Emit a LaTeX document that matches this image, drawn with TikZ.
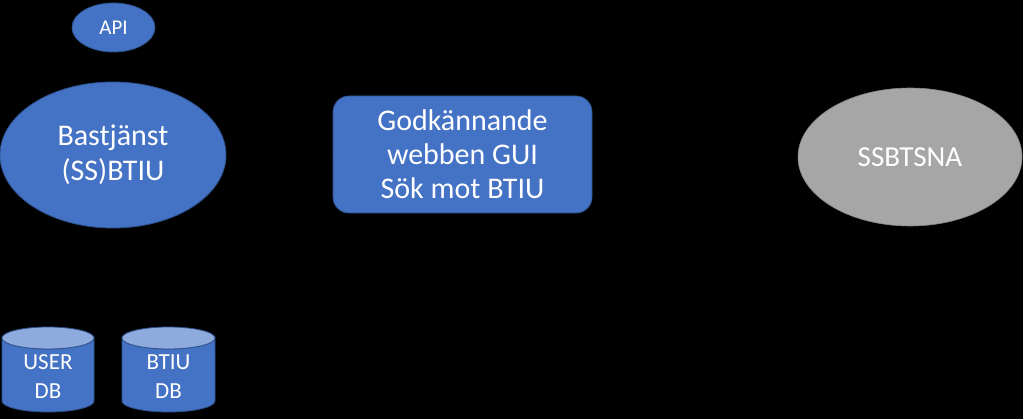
\documentclass[tikz,border=0pt]{standalone}
\usepackage{fontspec}
\setmainfont{Carlito}
\usetikzlibrary{shapes.geometric}
\definecolor{pblue}{HTML}{4472C4}
\definecolor{pedge}{HTML}{2F528F}
\definecolor{pcap}{HTML}{8FAADC}
\definecolor{pgray}{HTML}{A6A6A6}
\tikzset{
  blueell/.style={ellipse, fill=pblue, draw=pedge, line width=0.8pt, inner sep=0pt, text=white, align=center},
  grayell/.style={ellipse, fill=pgray, draw=pgray!80!black, line width=0.6pt, inner sep=0pt, text=white, align=center},
  guibox/.style={rectangle, rounded corners=16pt, fill=pblue, draw=pedge, line width=0.8pt, inner sep=0pt, text=white, align=center},
  dbbody/.style={fill=pblue, draw=pedge, line width=0.8pt},
  dbcap/.style={fill=pcap, draw=pedge, line width=0.8pt},
  dbtext/.style={inner sep=0pt, text=white, align=center, font=\fontsize{23}{29}\selectfont},
  conn/.style={draw=black, line width=1pt}
}
\begin{document}
\begin{tikzpicture}[x=1pt,y=-1pt]
\fill[black] (0,0) rectangle (1023,419);
\useasboundingbox (0,0) rectangle (1023,419);
% connectors (black, as in the reference)
\node[blueell, minimum width=83pt, minimum height=49pt, font=\fontsize{21}{25}\selectfont] (api) at (113.5,27.5) {API};
\node[blueell, minimum width=226pt, minimum height=146pt, font=\fontsize{30}{35}\selectfont] (bas) at (113,155) {Bastjänst\\(SS)BTIU};
\node[guibox, minimum width=259pt, minimum height=117pt, font=\fontsize{30}{34}\selectfont] (gui) at (462.5,154.5) {Godkännande\\webben GUI\\Sök mot BTIU};
\node[grayell, minimum width=224pt, minimum height=138pt, font=\fontsize{29}{34}\selectfont] (ssb) at (910,157) {SSBTSNA};
\draw[conn] (api) -- (bas);
\draw[conn] (bas) -- (gui);
\draw[conn] (gui) -- (ssb);
% USER DB
\path[dbbody] (2,338) -- (2,401) arc[start angle=180, end angle=0, x radius=46, y radius=11] -- (94,338) arc[start angle=0, end angle=180, x radius=46, y radius=11] -- cycle;
\path[dbcap] (48,338) ellipse[x radius=46, y radius=11];
\node[dbtext] (userdb) at (48,377) {USER\\DB};
% BTIU DB
\path[dbbody] (122,338) -- (122,401) arc[start angle=180, end angle=0, x radius=46.5, y radius=11] -- (215,338) arc[start angle=0, end angle=180, x radius=46.5, y radius=11] -- cycle;
\path[dbcap] (168.5,338) ellipse[x radius=46.5, y radius=11];
\node[dbtext] (btiudb) at (168.5,377) {BTIU\\DB};
\end{tikzpicture}
\end{document}
